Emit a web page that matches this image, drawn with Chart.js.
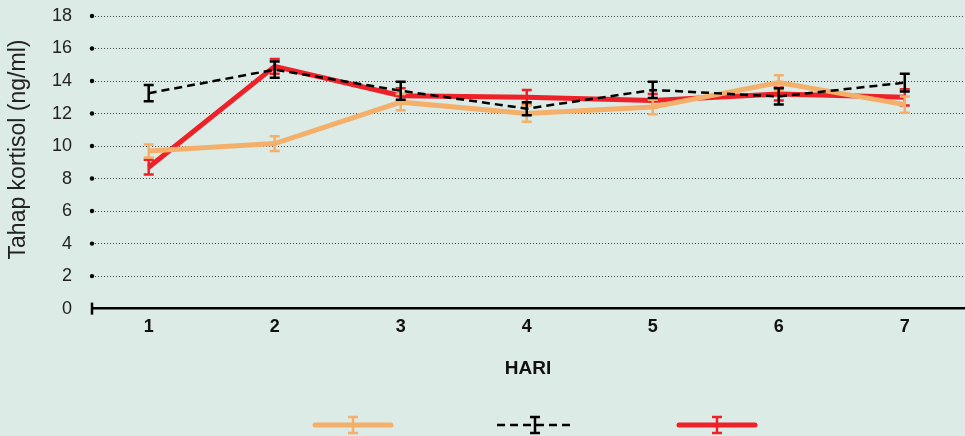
<!DOCTYPE html>
<html>
<head>
<meta charset="utf-8">
<script src="https://cdn.jsdelivr.net/npm/chart.js@4"></script>
<style>
  html, body { margin: 0; padding: 0; background: #dcebe6; }
  #wrap { width: 965px; height: 436px; }
</style>
</head>
<body>
<div id="wrap"><canvas id="chart"></canvas></div>
<script>
const days = [1, 2, 3, 4, 5, 6, 7];
const yTicks = [0, 2, 4, 6, 8, 10, 12, 14, 16, 18];

const orangeVals = [9.7, 10.15, 12.7, 12.0, 12.4, 13.9, 12.55];
const orangeErr = [0.4, 0.45, 0.5, 0.5, 0.45, 0.45, 0.5];
const blackVals = [13.25, 14.7, 13.4, 12.3, 13.45, 13.05, 13.9];
const blackErr = [0.5, 0.5, 0.55, 0.4, 0.5, 0.5, 0.55];
const redVals = [8.7, 14.9, 13.1, 13.0, 12.8, 13.2, 13.0];
const redErr = [0.45, 0.45, 0.45, 0.45, 0.4, 0.4, 0.5];

const ORANGE = '#f4b06b';
const RED = '#ee2028';
const BLACK = '#000000';
const FONT = 'Liberation Sans, Arial, sans-serif';

// legend sample: line + error bar glyph
function legendImage(color, width, dash) {
  const c = document.createElement('canvas');
  c.width = 176; c.height = 34;
  const g = c.getContext('2d');
  const cx = 88 + 10, cy = 17 + 5;
  g.strokeStyle = color;
  g.lineWidth = width;
  g.lineCap = dash ? 'butt' : 'round';
  g.setLineDash(dash || []);
  g.beginPath();
  g.moveTo(cx - 38, cy); g.lineTo(cx + 38, cy);
  g.stroke();
  g.setLineDash([]);
  g.lineWidth = 2.5;
  g.lineCap = 'butt';
  g.beginPath();
  g.moveTo(cx, cy - 8); g.lineTo(cx, cy + 8);
  g.moveTo(cx - 5, cy - 8); g.lineTo(cx + 5, cy - 8);
  g.moveTo(cx - 5, cy + 8); g.lineTo(cx + 5, cy + 8);
  g.stroke();
  return c;
}

const errors = [orangeErr, blackErr, redErr];

const errorBars = {
  id: 'errorBars',
  afterDatasetDraw(chart, args) {
    const ds = chart.data.datasets[args.index];
    const err = errors[args.index];
    const x = chart.scales.x, y = chart.scales.y;
    const ctx = chart.ctx;
    ctx.save();
    ctx.strokeStyle = ds.borderColor;
    ctx.lineWidth = 2.5;
    ds.data.forEach((p, i) => {
      const px = x.getPixelForValue(p.x);
      const top = y.getPixelForValue(p.y + err[i]);
      const bot = y.getPixelForValue(p.y - err[i]);
      ctx.beginPath();
      ctx.moveTo(px, top); ctx.lineTo(px, bot);
      ctx.moveTo(px - 5, top); ctx.lineTo(px + 5, top);
      ctx.moveTo(px - 5, bot); ctx.lineTo(px + 5, bot);
      ctx.stroke();
    });
    ctx.restore();
  }
};

// dots at the start of each gridline and the small tick at zero
const axisMarks = {
  id: 'axisMarks',
  afterDraw(chart) {
    const y = chart.scales.y;
    const left = chart.chartArea.left;
    const ctx = chart.ctx;
    ctx.save();
    ctx.fillStyle = '#000';
    ctx.strokeStyle = '#000';
    y.ticks.forEach(t => {
      const py = y.getPixelForValue(t.value);
      if (t.value === 0) {
        ctx.lineWidth = 2.5;
        ctx.beginPath();
        ctx.moveTo(left, py - 6); ctx.lineTo(left, py + 6);
        ctx.stroke();
      } else {
        ctx.beginPath();
        ctx.arc(left, py, 2.2, 0, Math.PI * 2);
        ctx.fill();
      }
    });
    ctx.restore();
  }
};

const toPoints = vals => vals.map((v, i) => ({ x: days[i], y: v }));

new Chart(document.getElementById('chart'), {
  type: 'line',
  data: {
    datasets: [
      {
        label: '',
        data: toPoints(orangeVals),
        borderColor: ORANGE,
        borderWidth: 5,
        pointRadius: 0,
        order: 2,
        legendImg: legendImage(ORANGE, 5)
      },
      {
        label: '',
        data: toPoints(blackVals),
        borderColor: BLACK,
        borderWidth: 2.5,
        borderDash: [8, 5],
        pointRadius: 0,
        order: 1,
        legendImg: legendImage(BLACK, 2.5, [8, 5])
      },
      {
        label: '',
        data: toPoints(redVals),
        borderColor: RED,
        borderWidth: 5,
        pointRadius: 0,
        order: 3,
        legendImg: legendImage(RED, 5)
      }
    ]
  },
  options: {
    responsive: true,
    maintainAspectRatio: false,
    animation: false,
    layout: { padding: { top: 16, right: 1, left: 0, bottom: 0 } },
    plugins: {
      tooltip: { enabled: false },
      legend: {
        position: 'bottom',
        fullSize: false,
        labels: {
          usePointStyle: true,
          pointStyleWidth: 176,
          padding: 0,
          font: { size: 12 },
          generateLabels(chart) {
            return chart.data.datasets.map((ds, i) => ({
              text: '',
              pointStyle: ds.legendImg,
              datasetIndex: i,
              hidden: false,
              lineWidth: 0
            }));
          }
        }
      }
    },
    scales: {
      x: {
        type: 'linear',
        min: 0.55,
        max: 7.47,
        afterBuildTicks(scale) {
          scale.ticks = days.map(d => ({ value: d }));
        },
        grid: { display: false, drawTicks: false },
        border: { display: true, color: '#000', width: 2.5 },
        ticks: {
          color: '#111',
          padding: 8,
          font: { family: FONT, size: 18, weight: 'bold' }
        },
        title: {
          display: true,
          text: 'HARI',
          color: '#111',
          padding: { top: 11, bottom: 34 },
          font: { family: FONT, size: 19, weight: 'bold' }
        }
      },
      y: {
        min: 0,
        max: 18,
        afterBuildTicks(scale) {
          scale.ticks = yTicks.map(v => ({ value: v }));
        },
        afterFit(scale) { scale.width = 92; },
        grid: {
          drawTicks: true,
          tickLength: 20,
          tickColor: 'rgba(0,0,0,0)',
          color: ctx => (ctx.tick && ctx.tick.value === 0 ? 'rgba(0,0,0,0)' : '#444'),
          lineWidth: 1
        },
        border: { display: false, dash: [1, 2] },
        ticks: {
          color: '#222',
          padding: 0,
          font: { family: FONT, size: 18 }
        },
        title: {
          display: true,
          text: '    Tahap kortisol (ng/ml)',
          color: '#222',
          padding: { top: 5, bottom: 0 },
          font: { family: FONT, size: 23 }
        }
      }
    }
  },
  plugins: [errorBars, axisMarks]
});
</script>
</body>
</html>
